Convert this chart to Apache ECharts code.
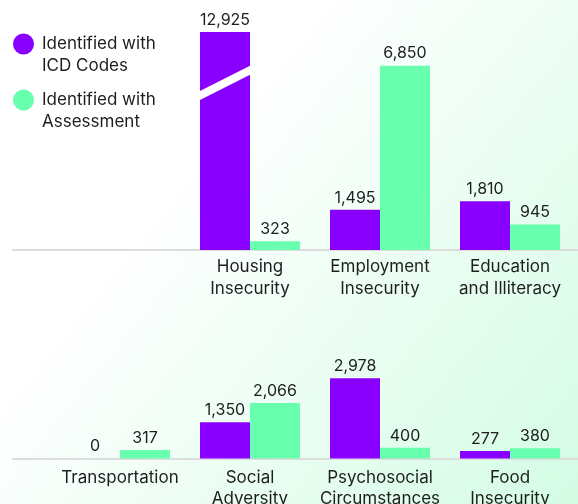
<!DOCTYPE html>
<html>
<head>
<meta charset="utf-8">
<script src="https://cdn.jsdelivr.net/npm/echarts@6/dist/echarts.min.js"></script>
<style>
html,body{margin:0;padding:0;background:#fff;}
#chart{width:578px;height:504px;}
</style>
</head>
<body>
<div id="chart"></div>
<script>
// ---- data ----
var seriesNames = ['Identified with\nICD Codes', 'Identified with\nAssessment'];
var topCategories = ['Housing\nInsecurity', 'Employment\nInsecurity', 'Education\nand Illiteracy'];
var topIcd = [12925, 1495, 1810];
var topAssessment = [323, 6850, 945];
var bottomCategories = ['Transportation', 'Social\nAdversity', 'Psychosocial\nCircumstances', 'Food\nInsecurity'];
var bottomIcd = [0, 1350, 2978, 277];
var bottomAssessment = [317, 2066, 400, 380];
// axis break drawn on the truncated bar: [category index, value at left edge, value at right edge]
var breakMarks = [[0, 5700, 6700]];

var PURPLE = '#8a00ff';
var GREEN = '#68ffae';
var FONT = 'Inter';
var TEXT = '#1e1e1e';

var chart = echarts.init(document.getElementById('chart'), null, {renderer: 'canvas'});

function valueLabel() {
  return {
    show: true, position: 'top', distance: 4,
    color: TEXT, fontFamily: FONT, fontSize: 16,
    formatter: function (p) { return p.value.toLocaleString('en-US'); }
  };
}

var option = {
  animation: false,
  backgroundColor: new echarts.graphic.LinearGradient(0.3, 0.35, 1, 1, [
    {offset: 0, color: '#ffffff'},
    {offset: 1, color: '#d3fce4'}
  ]),
  legend: {
    orient: 'vertical', left: 13, top: 11, padding: 0,
    icon: 'circle', itemWidth: 21, itemHeight: 21, itemGap: -10,
    formatter: function (name) { return '\n' + name; },
    textStyle: {color: TEXT, fontFamily: FONT, fontSize: 17, lineHeight: 22, padding: [0, 0, 0, 3]},
    data: seriesNames,
    selectedMode: false
  },
  grid: [
    {left: 185, right: 3, top: 32, bottom: 254, outerBoundsMode: 'none'},
    {left: 55, right: 3, top: 364.3, bottom: 45.5, outerBoundsMode: 'none'},
    {left: 13, right: 0, top: 32, bottom: 254, outerBoundsMode: 'none'},
    {left: 13, right: 0, top: 364.3, bottom: 45.5, outerBoundsMode: 'none'}
  ],
  xAxis: [
    {type: 'category', gridIndex: 0, data: topCategories, axisLine: {show: false}, axisTick: {show: false},
      axisLabel: {color: TEXT, fontFamily: FONT, fontSize: 17, lineHeight: 22, margin: 6, interval: 0}},
    {type: 'category', gridIndex: 1, data: bottomCategories, axisLine: {show: false}, axisTick: {show: false},
      axisLabel: {color: TEXT, fontFamily: FONT, fontSize: 17, lineHeight: 21, margin: 9, interval: 0}},
    {type: 'category', gridIndex: 2, data: [''], axisLine: {show: true, lineStyle: {color: '#dddddd', width: 2}}, axisTick: {show: false}, axisLabel: {show: false}},
    {type: 'category', gridIndex: 3, data: [''], axisLine: {show: true, lineStyle: {color: '#dddddd', width: 2}}, axisTick: {show: false}, axisLabel: {show: false}}
  ],
  yAxis: [
    {type: 'value', gridIndex: 0, min: 0, max: 8100, show: false},
    {type: 'value', gridIndex: 1, min: 0, max: 3500, show: false},
    {type: 'value', gridIndex: 2, min: 0, max: 1, show: false},
    {type: 'value', gridIndex: 3, min: 0, max: 1, show: false}
  ],
  series: [
    {name: seriesNames[0], type: 'bar', xAxisIndex: 0, yAxisIndex: 0, data: topIcd, barWidth: 50, barGap: '0%',
      itemStyle: {color: PURPLE}, label: valueLabel(), z: 3},
    {name: seriesNames[1], type: 'bar', xAxisIndex: 0, yAxisIndex: 0, data: topAssessment, barWidth: 50, barGap: '0%',
      itemStyle: {color: GREEN}, label: valueLabel(), z: 3},
    {name: seriesNames[0], type: 'bar', xAxisIndex: 1, yAxisIndex: 1, data: bottomIcd, barWidth: 50, barGap: '0%',
      itemStyle: {color: PURPLE}, label: valueLabel(), z: 3},
    {name: seriesNames[1], type: 'bar', xAxisIndex: 1, yAxisIndex: 1, data: bottomAssessment, barWidth: 50, barGap: '0%',
      itemStyle: {color: GREEN}, label: valueLabel(), z: 3},
    {
      type: 'custom', xAxisIndex: 0, yAxisIndex: 0, data: breakMarks, z: 5, silent: true,
      renderItem: function (params, api) {
        var cat = api.value(0);
        var left = api.coord([cat, api.value(1)]);
        var right = api.coord([cat, api.value(2)]);
        var xl = left[0] - 50 - 2;
        var xr = left[0] + 1;
        var yl = left[1], yr = right[1];
        var h = 4.5;
        return {
          type: 'polygon',
          shape: {points: [[xl, yl - h], [xr, yr - h], [xr, yr + h], [xl, yl + h]]},
          style: {fill: '#ffffff'}
        };
      }
    }
  ]
};
chart.setOption(option);
</script>
</body>
</html>
